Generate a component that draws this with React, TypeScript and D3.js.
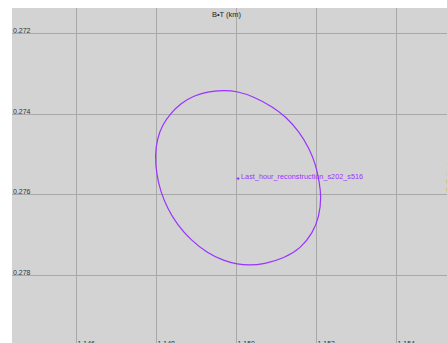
import React from "react";
import * as d3 from "d3";

// Axis ticks
const xTicks = [1.146, 1.148, 1.15, 1.152, 1.154];
const yTicks = [0.272, 0.274, 0.276, 0.278];

// B-plane trajectory reconstruction: B•T vs B•R (km)
const traceBT = [
  1.149675, 1.15005, 1.15045, 1.150918, 1.15125, 1.151583, 1.151833, 1.152,
  1.152083, 1.152138, 1.152083, 1.151918, 1.151625, 1.151208, 1.150708,
  1.150325, 1.150043, 1.149708, 1.149293, 1.148875, 1.148543, 1.148293,
  1.148125, 1.148025, 1.147983, 1.148043, 1.148168, 1.148375, 1.148625,
  1.148958, 1.149293,
];
const traceBR = [
  0.27342, 0.273445, 0.273581, 0.273826, 0.274074, 0.274446, 0.274857,
  0.275271, 0.275685, 0.276056, 0.276552, 0.276963, 0.277335, 0.277583,
  0.277732, 0.277761, 0.277732, 0.27765, 0.277459, 0.277129, 0.276758,
  0.276344, 0.275933, 0.275519, 0.275023, 0.274609, 0.27428, 0.27399,
  0.273742, 0.273554, 0.273455,
];
const centerBT = [1.150058];
const centerBR = [0.27561];
const seriesLabel = "Last_hour_reconstruction_s202_s516";

const W = 447;
const H = 343;
const plotLeft = 12;
const plotTop = 8;
const purple = "#9933ff";
const font = "'Liberation Sans', Arial, sans-serif";

export default function App() {
  const x = d3.scaleLinear().domain([1.146, 1.154]).range([75.5, 396]);
  const y = d3.scaleLinear().domain([0.272, 0.278]).range([33, 275]);

  const pts: [number, number][] = traceBT.map((v, i) => [x(v), y(traceBR[i])]);
  const line = d3
    .line<[number, number]>()
    .x((d) => d[0])
    .y((d) => d[1])
    .curve(d3.curveBasisClosed);

  const cx = x(centerBT[0]);
  const cy = y(centerBR[0]);

  return (
    <svg
      width={W}
      height={H}
      style={{ position: "absolute", left: 0, top: 0, overflow: "hidden" }}
    >
      <rect x={0} y={0} width={W} height={H} fill="#ffffff" />
      <rect
        x={plotLeft}
        y={plotTop}
        width={W - plotLeft}
        height={H - plotTop}
        fill="#d3d3d3"
      />
      {xTicks.map((t) => {
        const px = Math.round(x(t)) + 0.5;
        return (
          <g key={"x" + t}>
            <line x1={px} x2={px} y1={plotTop} y2={H} stroke="#a8a8a8" strokeWidth={1} />
            <text x={px + 1} y={346} fontSize={7} fontFamily={font} fill="#333">
              {d3.format(".3f")(t)}
            </text>
          </g>
        );
      })}
      {yTicks.map((t) => {
        const py = Math.round(y(t)) + 0.5;
        return (
          <g key={"y" + t}>
            <line x1={plotLeft} x2={W} y1={py} y2={py} stroke="#a8a8a8" strokeWidth={1} />
            <text x={13} y={py - 1} fontSize={7} fontFamily={font} fill="#333">
              {d3.format(".3f")(t)}
            </text>
          </g>
        );
      })}
      <text
        x={226.5}
        y={17}
        fontSize={7.5}
        fontFamily={font}
        fill="#222"
        textAnchor="middle"
      >
        B•T (km)
      </text>
      <text
        transform={`translate(451.5,177) rotate(-90)`}
        fontSize={7.5}
        fontFamily={font}
        fill="#222"
        textAnchor="middle"
      >
        R•T (km)
      </text>
      <path d={line(pts) ?? ""} fill="none" stroke={purple} strokeWidth={1.2} />
      <path
        d={`M${cx - 1.5},${cy}H${cx + 1.5}M${cx},${cy - 1.5}V${cy + 1.5}`}
        stroke={purple}
        strokeWidth={1}
      />
      <text x={cx + 3} y={cy} fontSize={7.3} fontFamily={font} fill={purple}>
        {seriesLabel}
      </text>
    </svg>
  );
}
